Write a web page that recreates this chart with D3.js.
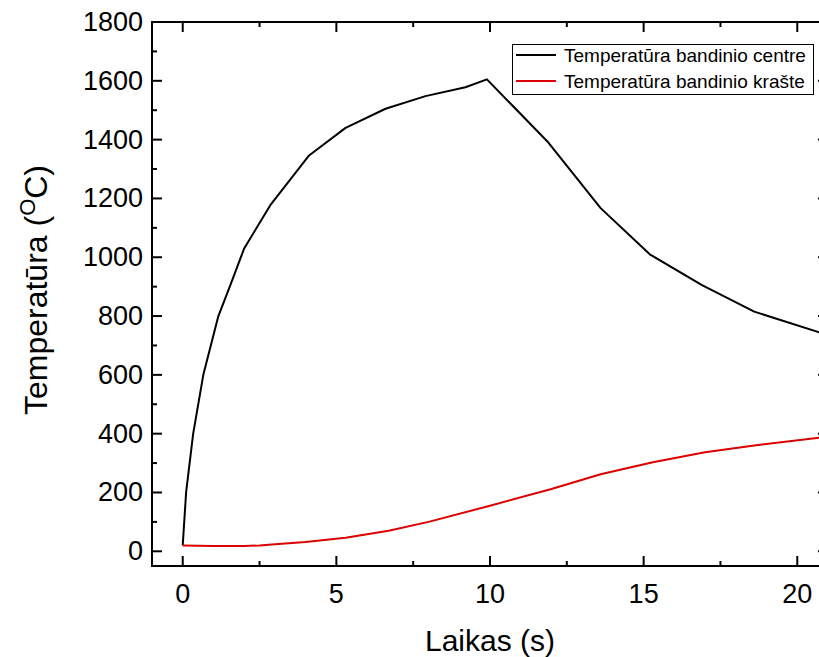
<!DOCTYPE html>
<html>
<head>
<meta charset="utf-8">
<script src="https://cdn.jsdelivr.net/npm/d3@7"></script>
<style>
  html, body { margin: 0; padding: 0; background: #fff; }
  svg { display: block; font-family: Arial, "Liberation Sans", sans-serif; }
</style>
</head>
<body>
<svg id="chart" width="819" height="657"></svg>
<script>
// Time (s) and temperature (°C) at the centre of the specimen
const centreTime = [0, 0.11, 0.34, 0.67, 1.16, 1.55, 2.0, 2.85, 4.1, 5.3, 6.6, 7.9, 9.2, 9.9, 11.9, 13.6, 15.2, 16.9, 18.6, 21];
const centreTemp = [20, 200, 400, 600, 800, 905, 1030, 1177, 1345, 1440, 1505, 1548, 1578, 1605, 1390, 1167, 1010, 905, 815, 735];

// Time (s) and temperature (°C) at the edge of the specimen
const edgeTime = [0, 1, 2, 2.5, 3, 4, 5.3, 6.7, 8, 10, 12, 13.6, 15.3, 17, 18.6, 21];
const edgeTemp = [20, 18, 18, 20, 24, 32, 46, 70, 100, 155, 212, 262, 303, 337, 360, 390];

const xTicks = [0, 5, 10, 15, 20];
const yTicks = [0, 200, 400, 600, 800, 1000, 1200, 1400, 1600, 1800];

const seriesNames = ["Temperatūra bandinio centre", "Temperatūra bandinio krašte"];
const seriesColors = ["#000000", "#dd0000"];

const svg = d3.select("#chart");
const plotL = 152, plotR = 828, plotT = 22, plotB = 566;

const x = d3.scaleLinear().domain([-1, 21]).range([plotL, plotR]);
const y = d3.scaleLinear().domain([-50, 1800]).range([plotB, plotT]);

const xMinorVals = d3.range(2.5, 21, 5);
const yMinorVals = d3.range(100, 1800, 200);

// Frame with inward ticks on all four sides
const axisG = svg.append("g").attr("stroke", "#000").attr("stroke-width", 2);

function ticksH(vals, len, yPos, dir) {
  axisG.selectAll(null).data(vals).enter().append("line")
    .attr("x1", d => x(d)).attr("x2", d => x(d))
    .attr("y1", yPos).attr("y2", yPos + dir * len);
}
function ticksV(vals, len, xPos, dir) {
  axisG.selectAll(null).data(vals).enter().append("line")
    .attr("y1", d => y(d)).attr("y2", d => y(d))
    .attr("x1", xPos).attr("x2", xPos + dir * len);
}
ticksH(xTicks, 10, plotB, -1);
ticksH(xMinorVals, 5, plotB, -1);
ticksH(xTicks, 10, plotT, 1);
ticksH(xMinorVals, 5, plotT, 1);
ticksV(yTicks, 10, plotL, 1);
ticksV(yMinorVals, 5, plotL, 1);
ticksV(yTicks, 10, plotR, -1);
ticksV(yMinorVals, 5, plotR, -1);

axisG.append("rect")
  .attr("x", plotL).attr("y", plotT)
  .attr("width", plotR - plotL).attr("height", plotB - plotT)
  .attr("fill", "none");

// Tick labels
svg.append("g").selectAll("text").data(yTicks).enter().append("text")
  .attr("x", plotL - 9).attr("y", d => y(d))
  .attr("text-anchor", "end").attr("dominant-baseline", "central")
  .attr("font-size", 27).text(d => d);

svg.append("g").selectAll("text").data(xTicks).enter().append("text")
  .attr("x", d => x(d)).attr("y", 594)
  .attr("text-anchor", "middle").attr("dominant-baseline", "central")
  .attr("font-size", 27).text(d => d);

// Axis titles
svg.append("text")
  .attr("x", 490).attr("y", 651)
  .attr("text-anchor", "middle").attr("font-size", 30)
  .text("Laikas (s)");

const yTitle = svg.append("text")
  .attr("transform", "translate(47,290) rotate(-90)")
  .attr("text-anchor", "middle").attr("font-size", 32);
yTitle.append("tspan").text("Temperatūra (");
yTitle.append("tspan").attr("font-size", 22).attr("dy", -12).text("O");
yTitle.append("tspan").attr("dy", 12).text("C)");

// Curves
const line = d3.line().x(d => x(d[0])).y(d => y(d[1]));
svg.append("clipPath").attr("id", "plotClip")
  .append("rect").attr("x", plotL).attr("y", plotT)
  .attr("width", plotR - plotL).attr("height", plotB - plotT);

const series = [
  d3.zip(centreTime, centreTemp),
  d3.zip(edgeTime, edgeTemp)
];
svg.append("g").attr("clip-path", "url(#plotClip)")
  .selectAll("path").data(series).enter().append("path")
  .attr("d", line)
  .attr("fill", "none")
  .attr("stroke", (d, i) => seriesColors[i])
  .attr("stroke-width", 2)
  .attr("stroke-linejoin", "round");

// Legend
const lg = svg.append("g");
lg.append("rect")
  .attr("x", 512.5).attr("y", 44.5).attr("width", 301).attr("height", 50)
  .attr("fill", "#fff").attr("stroke", "#000").attr("stroke-width", 1);
seriesNames.forEach((name, i) => {
  const ly = 55 + i * 26;
  lg.append("line")
    .attr("x1", 516).attr("x2", 556).attr("y1", ly).attr("y2", ly)
    .attr("stroke", seriesColors[i]).attr("stroke-width", 2);
  lg.append("text")
    .attr("x", 564).attr("y", ly)
    .attr("dominant-baseline", "central")
    .attr("font-size", 19).text(name);
});
</script>
</body>
</html>
